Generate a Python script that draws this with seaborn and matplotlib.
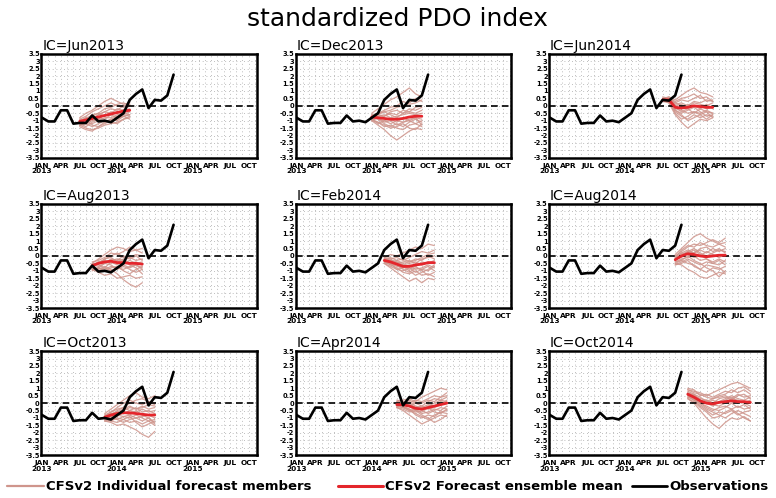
import numpy as np
import pandas as pd
import matplotlib
matplotlib.use("Agg")
import matplotlib.pyplot as plt
from matplotlib.lines import Line2D
import seaborn as sns

# ---------------------------------------------------------------------------
# Data: monthly index, month 0 = Jan 2013
# ---------------------------------------------------------------------------
obs_values = [-0.8, -1.05, -1.05, -0.3, -0.3, -1.2, -1.15, -1.15, -0.65, -1.05, -1.0, -1.1,
              -0.8, -0.5, 0.4, 0.8, 1.1, -0.15, 0.4, 0.35, 0.7, 2.1]

ic_labels = ["IC=Jun2013", "IC=Dec2013", "IC=Jun2014",
             "IC=Aug2013", "IC=Feb2014", "IC=Aug2014",
             "IC=Oct2013", "IC=Apr2014", "IC=Oct2014"]

# first forecast month of each run
fc_start = [6, 12, 18, 8, 14, 20, 10, 16, 22]

ens_mean = [
    [-1.05, -0.95, -0.85, -0.75, -0.65, -0.55, -0.45, -0.35, -0.3],
    [-0.75, -0.8, -0.85, -0.9, -0.9, -0.85, -0.75, -0.7, -0.7],
    [0.4, 0.4, -0.1, -0.15, -0.1, 0.0, -0.05, -0.1, -0.1],
    [-0.65, -0.5, -0.4, -0.35, -0.45, -0.45, -0.5, -0.5, -0.55],
    [-0.3, -0.4, -0.55, -0.7, -0.7, -0.6, -0.55, -0.45, -0.45],
    [-0.25, 0.0, 0.15, 0.1, 0.0, -0.05, 0.0, 0.05, 0.05],
    [-0.95, -0.8, -0.7, -0.65, -0.65, -0.7, -0.75, -0.8, -0.8],
    [-0.1, -0.1, -0.2, -0.35, -0.4, -0.3, -0.2, -0.1, 0.0],
    [0.6, 0.4, 0.15, 0.0, -0.05, 0.05, 0.1, 0.15, 0.1, 0.1, 0.05],
]

members_jun2013 = [
    [-0.8, -0.5, -0.3, 0.0, 0.3, 0.5, 0.3, 0.1, 0.2],
    [-1.3, -1.5, -1.6, -1.5, -1.3, -1.2, -1.1, -0.9, -0.8],
    [-1.0, -0.8, -0.9, -0.6, -0.4, -0.5, -0.2, -0.3, 0.0],
    [-1.4, -1.6, -1.7, -1.4, -1.1, -0.9, -1.0, -0.7, -0.6],
    [-1.1, -0.9, -0.6, -0.5, -0.7, -0.4, -0.5, -0.3, -0.2],
    [-0.9, -0.7, -0.4, -0.2, 0.0, 0.2, 0.0, -0.1, 0.1],
    [-1.2, -1.1, -1.2, -1.0, -0.8, -0.8, -0.6, -0.5, -0.6],
    [-1.0, -1.2, -1.0, -0.9, -1.1, -0.9, -0.7, -0.6, -0.4],
    [-1.3, -1.2, -0.9, -0.6, -0.4, -0.2, -0.3, 0.0, 0.1],
    [-0.9, -1.0, -1.3, -1.4, -1.2, -1.0, -0.9, -0.7, -0.6],
    [-1.1, -0.8, -0.7, -0.9, -0.6, -0.6, -0.4, -0.5, -0.3],
    [-1.2, -1.4, -1.1, -0.8, -0.9, -0.6, -0.8, -0.7, -0.9],
    [-1.0, -1.0, -0.7, -0.5, -0.2, -0.1, 0.1, 0.2, 0.0],
    [-1.3, -1.2, -1.4, -1.2, -1.0, -1.1, -1.2, -0.9, -0.7],
]

members_aug2013 = [
    [-0.5, -0.2, 0.1, 0.4, 0.6, 0.5, 0.3, 0.4, 0.2],
    [-0.9, -1.1, -1.3, -1.2, -1.5, -1.4, -1.3, -1.5, -1.4],
    [-0.6, -0.4, -0.5, -0.2, -0.3, 0.0, -0.1, -0.3, -0.2],
    [-0.8, -0.9, -0.7, -0.9, -1.2, -1.6, -1.9, -2.1, -1.8],
    [-0.7, -0.5, -0.2, -0.1, -0.4, -0.2, -0.5, -0.4, -0.6],
    [-0.4, -0.3, -0.1, 0.2, 0.1, 0.3, 0.6, 0.4, 0.5],
    [-0.9, -0.8, -0.9, -0.7, -0.8, -0.9, -0.7, -0.6, -0.8],
    [-0.6, -0.7, -0.5, -0.6, -0.9, -0.7, -0.9, -1.1, -0.9],
    [-1.0, -0.8, -0.5, -0.3, -0.2, -0.3, -0.1, 0.1, 0.0],
    [-0.5, -0.6, -0.8, -1.0, -0.8, -0.6, -0.8, -0.6, -0.9],
    [-0.7, -0.4, -0.3, -0.5, -0.3, -0.5, -0.3, -0.5, -0.4],
    [-0.8, -1.0, -0.8, -0.4, -0.6, -0.3, -0.6, -0.8, -1.2],
    [-0.6, -0.5, -0.2, 0.0, 0.2, -0.1, -0.2, 0.0, -0.3],
    [-0.9, -0.8, -1.0, -0.8, -0.7, -1.0, -1.2, -0.9, -0.7],
]

members_oct2013 = [
    [-0.7, -0.4, -0.1, 0.2, 0.5, 0.7, 0.4, 0.3, 0.5],
    [-1.2, -1.3, -1.5, -1.4, -1.6, -1.8, -2.1, -2.3, -1.9],
    [-0.9, -0.7, -0.8, -0.5, -0.3, -0.4, -0.2, -0.4, -0.3],
    [-1.1, -1.2, -1.0, -1.1, -1.3, -1.2, -1.4, -1.2, -1.5],
    [-0.9, -0.6, -0.4, -0.3, -0.5, -0.3, -0.6, -0.5, -0.7],
    [-0.8, -0.6, -0.3, 0.0, 0.2, 0.0, -0.1, 0.1, 0.0],
    [-1.0, -1.0, -1.1, -0.9, -0.8, -1.0, -0.9, -0.8, -1.0],
    [-1.1, -0.9, -0.8, -0.9, -1.0, -0.8, -1.0, -1.2, -1.1],
    [-1.2, -1.0, -0.6, -0.4, -0.2, -0.4, -0.3, -0.1, -0.2],
    [-0.8, -0.9, -1.1, -1.3, -1.1, -1.0, -1.2, -1.0, -1.3],
    [-1.0, -0.7, -0.6, -0.7, -0.5, -0.6, -0.4, -0.6, -0.5],
    [-0.9, -1.1, -0.9, -0.6, -0.8, -0.5, -0.8, -1.0, -1.4],
    [-1.0, -0.8, -0.5, -0.3, 0.0, 0.2, 0.3, 0.1, -0.1],
    [-1.2, -1.2, -1.3, -1.1, -0.9, -1.3, -1.6, -1.4, -1.2],
]

members_dec2013 = [
    [-0.5, -0.2, 0.1, 0.4, 0.6, 0.9, 1.2, 0.8, 0.6],
    [-1.0, -1.3, -1.6, -2.0, -2.3, -2.0, -1.7, -1.5, -1.6],
    [-0.7, -0.6, -0.7, -0.4, -0.3, -0.5, -0.2, -0.3, -0.1],
    [-0.9, -1.1, -1.4, -1.3, -1.5, -1.6, -1.3, -1.2, -1.4],
    [-0.8, -0.5, -0.4, -0.6, -0.8, -0.5, -0.4, -0.5, -0.3],
    [-0.6, -0.5, -0.3, -0.1, 0.0, 0.3, 0.1, 0.2, 0.4],
    [-0.8, -0.9, -1.0, -1.2, -1.0, -1.1, -0.9, -0.8, -0.9],
    [-0.9, -0.8, -1.1, -1.0, -1.3, -1.1, -1.0, -1.2, -1.0],
    [-1.0, -0.8, -0.7, -0.5, -0.6, -0.3, -0.4, -0.1, 0.0],
    [-0.6, -0.9, -1.2, -1.4, -1.2, -1.4, -1.1, -0.9, -1.1],
    [-0.8, -0.7, -0.6, -0.8, -0.7, -0.6, -0.5, -0.6, -0.5],
    [-0.9, -1.2, -1.0, -0.9, -1.1, -0.8, -1.0, -0.8, -1.3],
    [-0.7, -0.6, -0.4, -0.3, -0.1, 0.0, 0.2, 0.5, 0.3],
    [-1.0, -1.1, -1.3, -1.5, -1.4, -1.2, -1.5, -1.6, -1.2],
]

members_feb2014 = [
    [-0.1, 0.1, 0.0, 0.2, 0.4, 0.6, 0.5, 0.8, 0.7],
    [-0.5, -0.8, -1.1, -1.4, -1.7, -1.5, -1.8, -1.5, -1.6],
    [-0.3, -0.2, -0.5, -0.4, -0.3, -0.5, -0.2, -0.1, 0.0],
    [-0.4, -0.6, -0.8, -1.1, -1.2, -1.0, -1.3, -1.2, -1.4],
    [-0.2, -0.3, -0.4, -0.6, -0.9, -0.7, -0.4, -0.5, -0.3],
    [-0.1, -0.2, -0.1, -0.3, -0.1, 0.1, 0.3, 0.2, 0.4],
    [-0.4, -0.5, -0.7, -0.8, -0.7, -0.9, -0.8, -0.6, -0.8],
    [-0.3, -0.6, -0.6, -0.9, -1.1, -0.8, -0.9, -1.0, -0.7],
    [-0.5, -0.4, -0.3, -0.5, -0.4, -0.2, -0.3, 0.0, -0.2],
    [-0.2, -0.5, -0.9, -1.0, -0.8, -1.1, -0.9, -0.7, -1.0],
    [-0.3, -0.3, -0.5, -0.6, -0.5, -0.4, -0.6, -0.4, -0.5],
    [-0.4, -0.5, -0.4, -0.7, -1.0, -1.3, -1.1, -0.9, -0.6],
    [-0.2, -0.1, -0.3, -0.2, -0.4, -0.3, -0.1, 0.1, 0.2],
    [-0.5, -0.7, -0.9, -0.8, -0.6, -0.7, -1.0, -1.3, -1.1],
]

members_apr2014 = [
    [0.1, 0.2, 0.3, 0.1, 0.4, 0.6, 0.8, 1.0, 0.9],
    [-0.3, -0.5, -0.8, -1.1, -1.4, -1.2, -1.0, -0.8, -0.9],
    [-0.1, 0.0, -0.2, 0.0, -0.2, 0.1, 0.3, 0.2, 0.4],
    [-0.2, -0.3, -0.5, -0.7, -0.9, -1.1, -0.8, -0.6, -0.7],
    [0.0, -0.1, 0.1, -0.2, -0.3, -0.1, -0.2, 0.1, 0.0],
    [0.2, 0.1, 0.0, 0.2, 0.1, 0.3, 0.5, 0.4, 0.7],
    [-0.2, -0.3, -0.4, -0.6, -0.5, -0.7, -0.5, -0.3, -0.4],
    [-0.1, -0.2, -0.5, -0.4, -0.7, -0.6, -0.4, -0.5, -0.2],
    [-0.3, -0.1, 0.0, -0.3, -0.4, -0.2, 0.0, 0.2, 0.1],
    [0.0, -0.2, -0.4, -0.8, -1.0, -0.8, -0.9, -0.6, -0.5],
    [-0.2, 0.0, -0.1, -0.3, -0.2, -0.4, -0.3, -0.1, 0.2],
    [-0.1, -0.3, -0.2, -0.5, -0.6, -0.3, -0.6, -0.7, -0.4],
    [0.1, 0.0, 0.2, 0.0, 0.0, 0.2, 0.1, 0.4, 0.5],
    [-0.3, -0.4, -0.6, -0.5, -0.8, -1.0, -1.3, -1.1, -0.8],
]

members_jun2014 = [
    [0.5, 0.6, 0.4, 0.7, 1.0, 1.2, 0.9, 0.8, 0.6],
    [0.3, 0.2, -0.6, -1.1, -1.5, -1.2, -0.9, -1.0, -0.8],
    [0.4, 0.5, 0.1, 0.2, 0.0, 0.3, 0.2, 0.4, 0.3],
    [0.3, 0.3, -0.4, -0.7, -0.9, -0.6, -0.8, -0.6, -0.7],
    [0.5, 0.4, 0.0, -0.2, 0.1, -0.1, 0.0, -0.2, -0.1],
    [0.6, 0.5, 0.3, 0.5, 0.6, 0.8, 0.5, 0.6, 0.3],
    [0.3, 0.4, -0.2, -0.3, -0.5, -0.4, -0.6, -0.4, -0.5],
    [0.4, 0.2, -0.3, -0.5, -0.3, -0.1, -0.4, -0.7, -0.6],
    [0.5, 0.4, 0.2, 0.0, -0.1, 0.2, 0.1, 0.0, 0.2],
    [0.3, 0.3, -0.5, -0.9, -0.7, -0.4, -0.5, -0.3, -0.5],
    [0.4, 0.5, 0.0, 0.1, -0.2, 0.0, -0.2, 0.1, -0.2],
    [0.5, 0.3, -0.1, -0.4, -0.2, -0.5, -0.2, -0.4, -0.8],
    [0.4, 0.6, 0.2, 0.4, 0.3, 0.5, 0.7, 0.3, 0.4],
    [0.3, 0.3, -0.3, -0.6, -1.0, -0.8, -0.6, -0.9, -0.6],
]

members_aug2014 = [
    [0.1, 0.5, 0.9, 1.3, 1.5, 1.2, 1.0, 0.8, 0.9],
    [-0.5, -0.6, -0.9, -1.1, -1.4, -1.5, -1.3, -1.1, -1.2],
    [-0.2, 0.1, 0.3, 0.2, 0.4, 0.2, 0.5, 0.3, 0.5],
    [-0.4, -0.3, -0.5, -0.6, -0.9, -1.1, -0.8, -0.9, -0.7],
    [-0.3, 0.2, 0.1, -0.1, 0.0, 0.3, 0.1, -0.1, 0.1],
    [0.0, 0.3, 0.6, 0.8, 0.7, 0.9, 1.1, 0.9, 1.2],
    [-0.6, -0.4, -0.2, -0.4, -0.6, -0.4, -0.5, -0.3, -0.6],
    [-0.2, -0.1, 0.2, 0.4, 0.1, -0.2, -0.4, -0.2, -0.4],
    [-0.1, 0.2, 0.4, 0.2, 0.5, 0.6, 0.3, 0.5, 0.2],
    [-0.5, -0.3, 0.0, -0.3, -0.5, -0.8, -1.0, -1.4, -1.0],
    [-0.3, 0.0, 0.3, 0.5, 0.2, 0.0, 0.2, 0.4, 0.3],
    [-0.4, -0.2, -0.1, 0.0, -0.3, -0.2, -0.5, -0.6, -0.3],
    [-0.1, 0.4, 0.7, 0.6, 0.9, 0.7, 0.6, 0.8, 0.6],
    [-0.6, -0.5, -0.3, -0.7, -0.9, -0.6, -0.7, -0.8, -1.1],
]

members_oct2014 = [
    [0.9, 0.8, 0.7, 0.5, 0.7, 0.9, 1.1, 1.3, 1.4, 1.2, 1.0],
    [0.3, 0.0, -0.5, -1.0, -1.4, -1.7, -1.3, -1.0, -1.1, -0.9, -1.2],
    [0.7, 0.5, 0.3, 0.2, 0.0, 0.3, 0.4, 0.2, 0.5, 0.6, 0.3],
    [0.4, 0.2, -0.2, -0.5, -0.8, -0.6, -0.7, -0.5, -0.8, -0.6, -0.5],
    [0.6, 0.6, 0.2, 0.0, 0.2, 0.0, 0.2, 0.4, 0.1, 0.0, 0.2],
    [1.0, 0.9, 0.5, 0.6, 0.4, 0.6, 0.8, 0.7, 1.0, 1.1, 0.8],
    [0.5, 0.2, 0.0, -0.3, -0.5, -0.3, -0.2, -0.4, -0.2, -0.4, -0.3],
    [0.6, 0.4, 0.1, 0.2, -0.1, -0.2, 0.0, 0.3, 0.2, 0.0, -0.2],
    [0.8, 0.6, 0.4, 0.1, 0.3, 0.4, 0.5, 0.3, 0.6, 0.4, 0.5],
    [0.3, 0.1, -0.3, -0.6, -1.0, -0.9, -0.6, -0.4, -0.7, -1.0, -1.2],
    [0.7, 0.5, 0.2, 0.0, -0.2, 0.1, 0.3, 0.5, 0.3, 0.2, 0.4],
    [0.5, 0.3, 0.0, -0.2, -0.4, -0.5, -0.3, 0.0, -0.3, -0.1, -0.4],
    [0.9, 0.7, 0.6, 0.4, 0.3, 0.5, 0.6, 0.9, 0.7, 0.9, 0.6],
    [0.4, 0.3, -0.1, -0.4, -0.6, -0.8, -1.0, -0.7, -0.5, -0.7, -0.9],
]

members = [members_jun2013, members_dec2013, members_jun2014,
           members_aug2013, members_feb2014, members_aug2014,
           members_oct2013, members_apr2014, members_oct2014]

month_names = ["JAN", "APR", "JUL", "OCT"]
years = [2013, 2014, 2015]

# ---------------------------------------------------------------------------
# Styling
# ---------------------------------------------------------------------------
sns.set_theme(style="white")
plt.rcParams["font.family"] = ["DejaVu Sans"]
plt.rcParams["text.color"] = "black"
plt.rcParams["xtick.color"] = "black"
plt.rcParams["ytick.color"] = "black"

MEMBER_COLOR = "#cf958c"
MEAN_COLOR = "#e4262c"
OBS_COLOR = "black"

fig = plt.figure(figsize=(7.76, 4.98), dpi=100)

col_left = [0.053, 0.381, 0.7075]
row_bottom = [0.683, 0.3815, 0.086]
ax_w, ax_h = 0.278, 0.209

tick_pos = list(range(0, 34, 3))
tick_lab = []
for y in years:
    for m in month_names:
        tick_lab.append(f"{m}\n{y}" if m == "JAN" else m)

obs_df = pd.DataFrame({"month": np.arange(len(obs_values)), "value": obs_values})

for k in range(9):
    r, c = divmod(k, 3)
    ax = fig.add_axes([col_left[c], row_bottom[r], ax_w, ax_h])

    start = fc_start[k]
    rows = []
    for mi, series in enumerate(members[k]):
        for j, v in enumerate(series):
            rows.append((mi, start + j, v))
    mem_df = pd.DataFrame(rows, columns=["member", "month", "value"])
    mean_df = pd.DataFrame({"month": start + np.arange(len(ens_mean[k])),
                            "value": ens_mean[k]})

    # background dotted grid
    for xm in range(0, 35):
        ax.axvline(xm, color="#a8a8a8", lw=0.6, ls=(0, (1, 3.5)), zorder=0)
    for yv in np.arange(-3.5, 3.51, 0.5):
        ax.axhline(yv, color="#a8a8a8", lw=0.6, ls=(0, (1, 3.5)), zorder=0)

    sns.lineplot(data=mem_df, x="month", y="value", units="member", estimator=None,
                 color=MEMBER_COLOR, lw=0.9, alpha=0.85, ax=ax, zorder=2)
    ax.axhline(0, color="black", lw=1.2, ls=(0, (4, 2.5)), zorder=3)
    sns.lineplot(data=mean_df, x="month", y="value", color=MEAN_COLOR, lw=2.0,
                 ax=ax, zorder=4)
    sns.lineplot(data=obs_df, x="month", y="value", color=OBS_COLOR, lw=1.9,
                 ax=ax, zorder=5)

    ax.set_xlim(-0.15, 34.3)
    ax.set_ylim(-3.5, 3.5)
    ax.set_xlabel("")
    ax.set_ylabel("")
    ax.set_xticks(tick_pos)
    ax.set_xticklabels(tick_lab, fontsize=5.3, fontweight="bold", linespacing=0.9)
    yt = np.arange(-3.5, 3.51, 0.5)
    ax.set_yticks(yt)
    ax.set_yticklabels([f"{v:g}" for v in yt], fontsize=4.8, fontweight="bold")
    ax.tick_params(axis="both", which="both", direction="in", length=2.5,
                   width=0.8, color="black")
    ax.tick_params(axis="y", pad=1.0)
    ax.tick_params(axis="x", pad=3.5)
    for sp in ax.spines.values():
        sp.set_linewidth(1.8)
        sp.set_color("black")
    ax.text(0.005, 1.01, ic_labels[k], transform=ax.transAxes, fontsize=10,
            ha="left", va="bottom")

fig.text(0.512, 0.962, "standardized PDO index", ha="center", va="center",
         fontsize=18)

# legend row along the bottom
leg_y = 0.024
legend_items = [
    (0.009, 0.057, MEMBER_COLOR, 1.6, "CFSv2 Individual forecast members"),
    (0.436, 0.494, MEAN_COLOR, 2.2, "CFSv2 Forecast ensemble mean"),
    (0.815, 0.860, OBS_COLOR, 2.0, "Observations"),
]
for x0, x1, col, lw, label in legend_items:
    fig.add_artist(Line2D([x0, x1], [leg_y, leg_y], transform=fig.transFigure,
                          color=col, lw=lw))
    fig.text(x1 + 0.002, leg_y, label, ha="left", va="center", fontsize=9.5,
             fontweight="bold")

fig.savefig("out.png", dpi=100)
